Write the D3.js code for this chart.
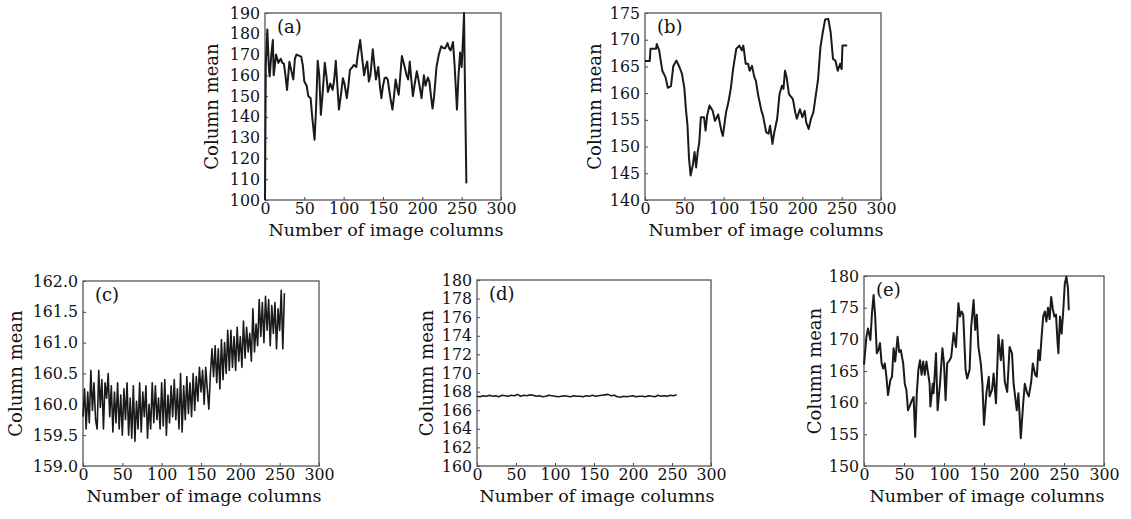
<!DOCTYPE html>
<html>
<head>
<meta charset="utf-8">
<script src="https://cdn.jsdelivr.net/npm/d3@7"></script>
<style>
body { margin: 0; background: #fff; }
svg text { font-family: "DejaVu Serif", serif; fill: #111; }
.tick text { font-size: 15.8px; }
</style>
</head>
<body>
<div id="chart"></div>
<script>
const svgWidth = 1131, svgHeight = 519;

// x axis is the same for every panel
const xTicks = [0, 50, 100, 150, 200, 250, 300];

// (a)
const colsA = [0,1,3,5,6,8,10,11,12,14,17,20,22,24,26,28,31,33,36,38,40,43,46,48,50,53,55,58,60,63,65,67,69,71,73,76,78,80,83,86,88,90,92,94,97,99,101,104,106,108,111,113,116,118,121,123,126,128,130,132,134,137,139,141,144,146,148,150,152,154,156,159,162,164,166,168,170,172,174,177,180,182,184,186,188,190,193,196,199,202,204,207,209,211,213,215,218,221,224,227,229,232,234,236,239,241,244,246,248,250,252,253,254,256];
const meanA = [100,165,182,163,159.5,170,177,160,163,170,166,168,166,165.6,160,153,166.5,163,158,168,170,169.5,169,165,157,155,150,149,140,129,145,167,160,141,150,166,160,152,156,153,158,167,155,143.5,152,158.6,156,149,155,162.6,164,165,164,170,177,170,160,164,166.6,157,160,172.5,165,158,164,155,149,155,158.6,159,158,150,143.5,150,158,154,150.7,160,169.3,165,160,158,166.6,158,150,155,162,156,149,160,155,159,157,150,144,150,164,170,174,173,173,175.5,173,172,176,165,143.5,160,171,164,180,190,160,108];
const ticksA = [100,110,120,130,140,150,160,170,180,190];

// (b)
const colsB = [0,6,7,14,15,18,22,26,29,33,36,40,44,47,50,52,54,56,58,61,63,65,67,69,71,75,77,79,82,86,89,93,97,99,103,106,109,112,116,120,123,125,128,131,133,136,139,141,144,148,150,154,157,159,162,164,168,171,174,176,178,180,183,188,191,193,197,200,203,205,208,211,214,217,220,223,226,229,233,236,239,242,245,248,250,251,257];
const meanB = [166,166,168.3,168.3,169.2,168,164.2,163,161,161.3,165.1,166.1,164.8,163.6,161,157,154,147.7,144.6,146.7,149,146.1,149,150.8,155.5,155.5,153,155.8,157.7,156.7,154.8,156,153,152,156.4,158.3,160.8,164.5,168.3,168.9,168,168.9,165.5,165.5,164.2,165.1,163,162.3,159.5,156.7,155.8,152.7,152.4,153.9,150.5,152.4,155.2,159.8,161.4,160.8,164.2,163,159.8,158.9,156.4,155.2,157,155.5,156.7,154.5,153.3,155.2,156.4,159.5,162.6,168.6,171.4,173.8,173.9,171.4,166.4,166.1,164.2,165.5,164.5,168.9,168.9];
const ticksB = [140,145,150,155,160,165,170,175];

// (c) one value every 2 columns
const stepC = 2;
const meanC = [159.8,160.25,159.6,160.2,159.7,160.55,159.9,160.35,159.75,159.6,160.55,159.95,160.4,159.6,160.35,160.1,160.5,159.8,160.3,159.55,
  160.2,159.7,160.35,159.6,160.15,159.5,160.25,159.75,160.35,159.5,160.1,159.45,160.3,159.4,160.05,159.6,160.35,159.55,160.2,159.8,
  160.3,159.45,160.0,159.6,160.35,159.7,160.3,159.75,160.1,159.6,160.35,159.65,160.4,159.5,160.15,159.7,160.3,159.8,160.4,159.75,
  160.25,159.6,160.5,159.55,160.3,159.75,160.45,159.85,160.35,159.8,160.5,159.9,160.45,160.05,160.6,160.2,160.55,160.0,160.6,160.25,
  159.92,160.5,160.9,160.45,160.95,160.35,160.9,160.25,161.05,160.4,161.0,160.5,161.2,160.55,161.2,160.6,161.1,160.55,161.25,160.7,
  161.1,160.6,161.35,160.75,161.25,160.85,161.15,160.7,161.55,160.85,161.3,160.95,161.7,161.1,161.65,161.0,161.75,161.2,161.7,160.95,
  161.6,161.15,161.65,160.9,161.55,161.2,161.85,160.9,161.8];
const ticksC = [159.0,159.5,160.0,160.5,161.0,161.5,162.0];

// (d) one value every 4 columns
const stepD = 4;
const meanD = [167.5,167.45,167.55,167.5,167.6,167.5,167.55,167.45,167.6,167.55,167.5,167.6,167.55,
  167.7,167.5,167.6,167.55,167.65,167.6,167.5,167.55,167.45,167.5,167.6,167.55,167.5,
  167.45,167.5,167.55,167.5,167.45,167.55,167.5,167.5,167.45,167.55,167.5,167.6,167.5,
  167.55,167.6,167.65,167.7,167.55,167.6,167.45,167.4,167.5,167.45,167.5,167.55,167.45,
  167.5,167.5,167.45,167.55,167.5,167.45,167.6,167.5,167.55,167.5,167.6,167.55,167.65];
const ticksD = [160,162,164,166,168,170,172,174,176,178,180];

// (e)
const colsE = [0,3,5,8,10,12,14,16,18,20,22,24,26,28,30,33,35,37,39,42,44,46,49,51,53,55,57,60,62,64,66,68,70,72,74,76,78,82,83,86,87,90,92,95,98,100,102,104,107,109,112,115,118,120,122,124,127,129,132,134,137,139,141,143,146,148,150,153,156,157,160,162,165,168,171,173,176,179,182,185,187,191,193,196,199,201,204,206,209,211,214,216,218,220,222,224,226,228,230,232,234,236,238,240,242,243,245,247,249,251,253,255,256];
const meanE = [166,170.4,171.7,169.9,174.2,177,173.6,167.8,168.3,169.4,166.2,165.4,166.2,164.1,161.2,163.6,164.1,168.6,166.5,170.4,168,168.3,166.2,163,162,158.8,159.4,160.4,160.9,154.6,161.5,165.2,166.7,164.4,166.5,164.4,166.5,163,159.4,163,161.5,167.8,158.8,163,168.6,166.2,160.4,166.2,166.7,167.2,171,168.8,175.7,173.6,174.4,173.9,165.2,163.8,165.2,172,176.2,171.5,173.9,168.8,166.2,163,156.5,161.5,164.1,161,162,164.6,159.9,170.7,166.7,169.9,163.3,161.7,168.8,167.8,163,158.8,161.5,154.4,159.9,163,161.5,161,163.3,166.2,164.4,164.1,168.3,166.7,170.4,173.6,174.4,172.8,175,173.2,176.7,174.8,173.6,173.9,169.4,167.8,173.6,170.9,174.4,178.8,179.9,178,174.6];
const ticksE = [150,155,160,165,170,175,180];

const svg = d3.select("#chart")
  .append("svg")
  .attr("width", svgWidth)
  .attr("height", svgHeight);

// box = [left, top, right, bottom] of each plot frame
const panels = [
  { tag: "(a)", box: [265, 13, 501, 200], ticks: ticksA, data: d3.zip(colsA, meanA), fmt: d3.format("d"), titleOff: 47 },
  { tag: "(b)", box: [645, 13, 881, 200], ticks: ticksB, data: d3.zip(colsB, meanB), fmt: d3.format("d"), titleOff: 44 },
  { tag: "(c)", box: [83, 281, 319, 466], ticks: ticksC, data: meanC.map((v, i) => [i * stepC, v]), fmt: d3.format(".1f"), titleOff: 61, lw: 1.6 },
  { tag: "(d)", box: [477, 280, 711, 466], ticks: ticksD, data: meanD.map((v, i) => [i * stepD, v]), fmt: d3.format("d"), titleOff: 44, lw: 1.6 },
  { tag: "(e)", box: [864, 276, 1104, 466], ticks: ticksE, data: d3.zip(colsE, meanE), fmt: d3.format("d"), titleOff: 43 }
];

function drawPanel(p) {
  const [left, top, right, bottom] = p.box;
  const width = right - left;
  const height = bottom - top;

  const g = svg.append("g")
    .attr("transform", `translate(${left}, ${top})`);

  const x = d3.scaleLinear().domain([0, 300]).range([0, width]);
  const y = d3.scaleLinear().domain([p.ticks[0], p.ticks[p.ticks.length - 1]]).range([height, 0]);

  const xAxis = g.append("g")
    .attr("transform", `translate(0, ${height})`)
    .style("color", "#444")
    .call(d3.axisBottom(x).tickValues(xTicks).tickSize(-3).tickSizeOuter(0).tickPadding(3));
  xAxis.select(".domain").remove();

  const yAxis = g.append("g")
    .style("color", "#444")
    .call(d3.axisLeft(y).tickValues(p.ticks).tickFormat(p.fmt).tickSize(-3).tickSizeOuter(0).tickPadding(5));
  yAxis.select(".domain").remove();

  g.append("rect")
    .attr("width", width)
    .attr("height", height)
    .attr("fill", "none")
    .attr("stroke", "#555")
    .attr("stroke-width", 1.3);

  const line = d3.line()
    .x(d => x(d[0]))
    .y(d => y(d[1]));

  g.append("path")
    .datum(p.data)
    .attr("fill", "none")
    .attr("stroke", "#1a1a1a")
    .attr("stroke-width", p.lw || 2)
    .attr("stroke-linejoin", "round")
    .attr("d", line);

  g.append("text")
    .attr("x", 12)
    .attr("y", 20)
    .style("font-size", "18px")
    .text(p.tag);

  // axis titles
  g.append("text")
    .attr("x", width / 2 + 3)
    .attr("y", height + 35.5)
    .attr("text-anchor", "middle")
    .style("font-size", "17.5px")
    .text("Number of image columns");

  g.append("text")
    .attr("transform", `translate(${-p.titleOff}, ${height / 2}) rotate(-90)`)
    .attr("text-anchor", "middle")
    .style("font-size", "18px")
    .text("Column mean");
}

panels.forEach(drawPanel);
</script>
</body>
</html>
